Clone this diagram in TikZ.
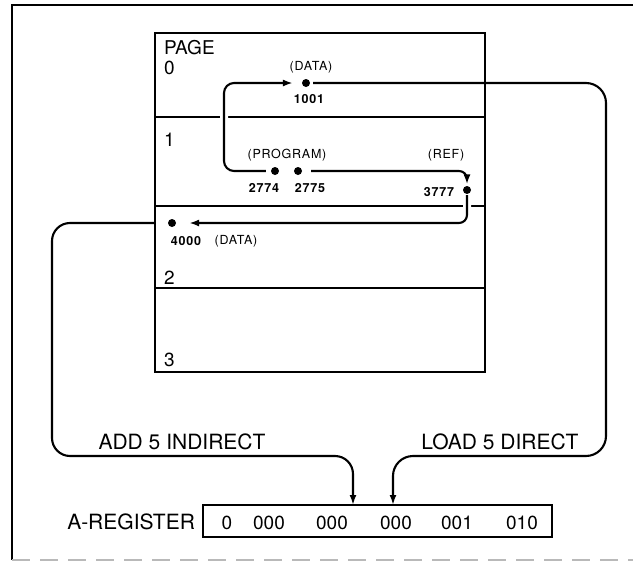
\documentclass[tikz,border=0pt]{standalone}
\usepackage{fontspec}
\setmainfont{TeX Gyre Heros}
\newfontfamily\tagfont[LetterSpace=6]{TeX Gyre Heros}
\usetikzlibrary{arrows.meta}

\begin{document}
\begin{tikzpicture}[x=1pt,y=-1pt,>={Latex[length=10pt,width=7pt]},line width=2.1pt,
  page/.style={draw,minimum width=330pt,inner sep=0pt},
  dot/.style={circle,fill,inner sep=0pt,minimum size=8pt},
  pg/.style={font=\fontsize{19}{22}\selectfont,inner sep=0pt},
  big/.style={font=\fontsize{21}{24}\selectfont,inner sep=0pt},
  tag/.style={font=\tagfont\fontsize{12.5}{14}\selectfont,inner sep=0pt},
  addr/.style={font=\tagfont\fontsize{12.5}{14}\selectfont\bfseries,inner sep=0pt},
  bits/.style={font=\fontsize{19}{22}\selectfont,inner sep=0pt},
  halo/.style={preaction={draw=white,line width=8pt,-}}]
\useasboundingbox (0,0) rectangle (633,565);
% page border
\draw (633,5)--(12,5)--(12,560);
\draw[gray!55,dash pattern=on 18pt off 10pt] (12,560)--(633,560);
% memory pages
\node[page,minimum height=84pt] (page0) at (320,75) {};
\node[page,minimum height=89pt] (page1) at (320,161.5) {};
\node[page,minimum height=82pt] (page2) at (320,247) {};
\node[page,minimum height=84pt] (page3) at (320,330) {};
\node[pg,anchor=west] (lbl0) at (163,48) {PAGE};
\node[pg,anchor=west] (num0) at (163,68) {0};
\node[pg,anchor=west] (num1) at (163,140) {1};
\node[pg,anchor=west] (num2) at (163,278) {2};
\node[pg,anchor=west] (num3) at (163,360) {3};
% locations
\node[dot] (d1001) at (306,83) {};
\node[dot] (d2774) at (275,171) {};
\node[dot] (d2775) at (298,171) {};
\node[dot] (d3777) at (467,190) {};
\node[dot] (d4000) at (172,223) {};
\node[tag] (t1001) at (311,67) {(DATA)};
\node[addr] (a1001) at (309,99) {1001};
\node[tag] (tprog) at (287,155) {(PROGRAM)};
\node[addr] (a2774) at (264,188) {2774};
\node[addr] (a2775) at (310,188) {2775};
\node[tag] (tref) at (446,155) {(REF)};
\node[addr] (a3777) at (439,192) {3777};
\node[addr] (a4000) at (186,241) {4000};
\node[tag] (t4000) at (236,241) {(DATA)};
% register
\node[draw,minimum width=349pt,minimum height=32pt,inner sep=0pt] (areg) at (377.5,521) {};
\node[big,anchor=east] (alabel) at (196,522) {A-REGISTER};
\foreach \x/\b in {227/0,269/000,332/000,396/000,457/001,522/010}
  \node[bits] (bit\x) at (\x,523) {\b};
\coordinate (addin) at (353,505);
\coordinate (loadin) at (393,505);
% references
\draw[->,rounded corners=10pt,halo,shorten <=4pt,shorten >=8pt]
  (d2774.west) -| ([xshift=-82pt]d1001.center) -- (d1001);
\draw[->,rounded corners=8pt,shorten <=8pt,shorten >=0.5pt] (d2775.east) -| (d3777);
\draw[->,rounded corners=8pt,halo,shorten >=12pt] (d3777) |- (d4000);
\draw[->,rounded corners=18pt] (page2.west |- d4000) -| (52,456) -| (addin);
\draw[->,rounded corners=20pt,shorten <=2pt] (d1001) -| (606,456) -| (loadin);
\node[big] (addtxt) at (182,442) {ADD 5 INDIRECT};
\node[big] (loadtxt) at (500,442) {LOAD 5 DIRECT};
\end{tikzpicture}
\end{document}
